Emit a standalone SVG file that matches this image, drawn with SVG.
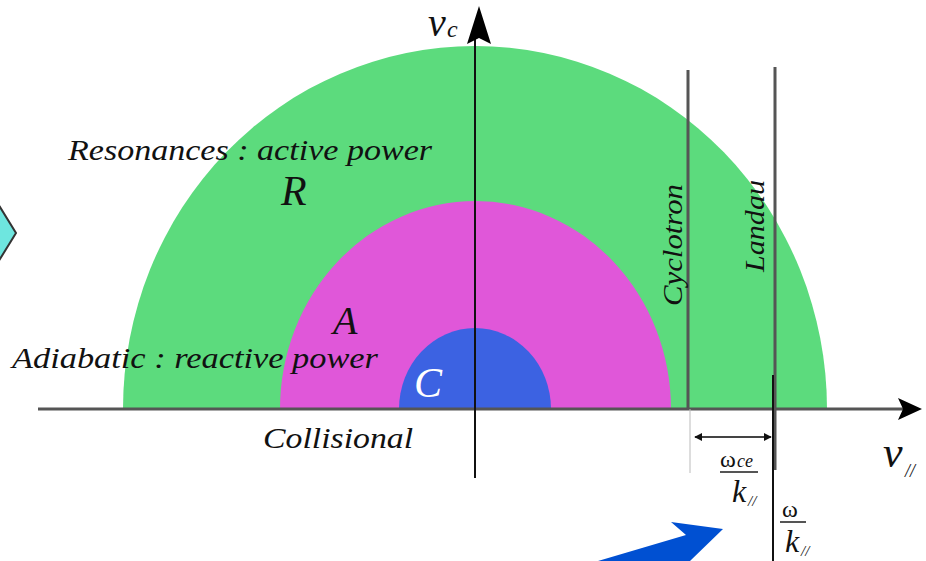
<svg xmlns="http://www.w3.org/2000/svg" width="926" height="561" viewBox="0 0 926 561">
<style>
.t{font-family:"Liberation Serif",Tinos,"Times New Roman",serif;font-style:italic;fill:#111}
</style>
<defs>
<marker id="ah" viewBox="0 0 10 10" refX="9" refY="5" markerWidth="8" markerHeight="8" orient="auto-start-reverse" markerUnits="userSpaceOnUse"><path d="M0,0 L10,5 L0,10 Z" fill="#111"/></marker>
</defs>
<g id="left-shape"><path d="M-20,232 L0,207 L16,233 L0,259 Z" fill="#6ee6df" stroke="#333" stroke-width="2"/></g>
<g id="zone-R"><path d="M123,409 A352,363 0 0 1 827,409 Z" fill="#5cdb7d"/></g>
<g id="zone-A"><path d="M280,409 A195.5,208 0 0 1 671,409 Z" fill="#e057d9"/></g>
<g id="zone-C"><path d="M399,409 A76,81 0 0 1 551,409 Z" fill="#3c62e2"/></g>
<g id="connectors">
<line x1="38" y1="409" x2="905" y2="409" stroke="#555" stroke-width="3"/>
<path d="M922,409 L898,398 L903,409 L898,420 Z" fill="#000"/>
<line x1="475" y1="478" x2="475" y2="30" stroke="#111" stroke-width="2"/>
<path d="M479,6 L467,44 L479,38 L491,44 Z" fill="#000"/>
<line x1="688" y1="70" x2="688" y2="409" stroke="#555" stroke-width="3"/>
<line x1="690" y1="409" x2="690" y2="473" stroke="#bbb" stroke-width="1"/>
<line x1="775" y1="67" x2="775" y2="470" stroke="#555" stroke-width="3"/>
<line x1="773" y1="375" x2="773" y2="561" stroke="#111" stroke-width="2"/>
<line x1="695" y1="437" x2="771" y2="437" stroke="#444" stroke-width="2" marker-start="url(#ah)" marker-end="url(#ah)"/>
<line x1="720" y1="472" x2="758" y2="472" stroke="#555" stroke-width="2"/>
<line x1="780" y1="522" x2="806" y2="522" stroke="#555" stroke-width="2"/>
</g>
<g id="blue-arrow"><path d="M598,561 L686,535 L671,522 L723,529 L690,561 Z" fill="#0050d2"/></g>
<g id="labels">
<text class="t" x="428" y="36" font-size="40">v</text><text class="t" x="447" y="37" font-size="24">c</text>
<text class="t" x="883" y="467" font-size="44">v</text><text class="t" x="905" y="477" font-size="18">//</text>
<text class="t" x="68" y="160" font-size="30" textLength="364" lengthAdjust="spacingAndGlyphs">Resonances : active power</text>
<text class="t" x="281" y="205" font-size="42">R</text>
<text class="t" x="333" y="334" font-size="40">A</text>
<text class="t" x="12" y="368" font-size="30" textLength="366" lengthAdjust="spacingAndGlyphs">Adiabatic : reactive power</text>
<text class="t" x="414" y="397" font-size="42" style="fill:#fff">C</text>
<text class="t" x="263" y="448" font-size="30" textLength="150" lengthAdjust="spacingAndGlyphs">Collisional</text>
<text class="t" transform="translate(682,306) rotate(-90)" font-size="27" textLength="122" lengthAdjust="spacingAndGlyphs">Cyclotron</text>
<text class="t" transform="translate(764,272) rotate(-90)" font-size="27" textLength="92" lengthAdjust="spacingAndGlyphs">Landau</text>
<text class="t" x="720" y="467" font-size="24" style="font-style:normal">ω</text><text class="t" x="737" y="467" font-size="18">ce</text>
<text class="t" x="732" y="502" font-size="32">k</text><text class="t" x="748" y="506" font-size="15">//</text>
<text class="t" x="782" y="517" font-size="24" style="font-style:normal">ω</text>
<text class="t" x="785" y="552" font-size="32">k</text><text class="t" x="801" y="556" font-size="15">//</text>
</g>
</svg>
